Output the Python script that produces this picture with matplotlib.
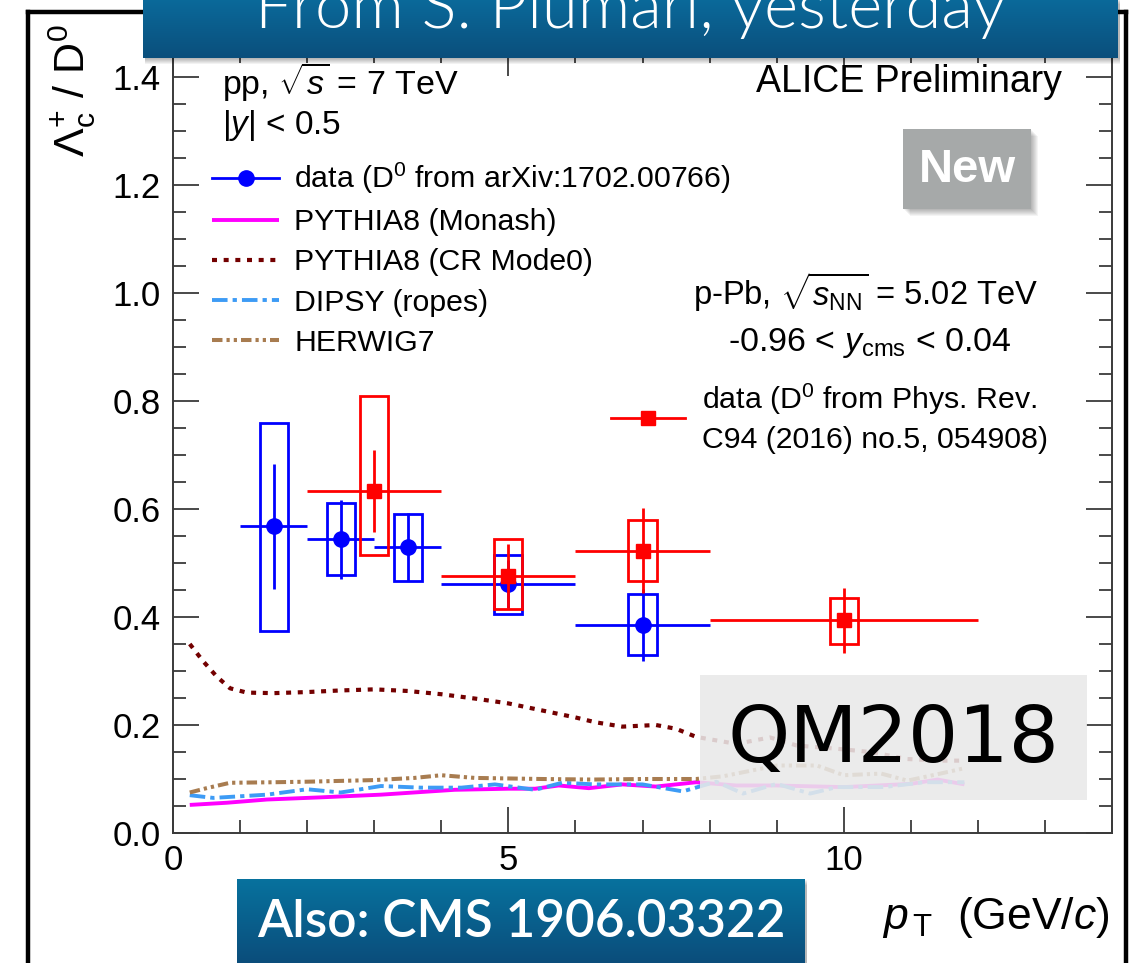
import numpy as np
import matplotlib
matplotlib.use("Agg")
import matplotlib.pyplot as plt
from matplotlib.lines import Line2D
from matplotlib.patches import Rectangle
from matplotlib.colors import LinearSegmentedColormap

plt.rcParams['font.family'] = ['Liberation Sans', 'DejaVu Sans']
plt.rcParams['mathtext.fontset'] = 'custom'
plt.rcParams['mathtext.rm'] = 'Liberation Sans'
plt.rcParams['mathtext.it'] = 'Liberation Sans:italic'
plt.rcParams['mathtext.bf'] = 'Liberation Sans:bold'

# ---------------- data ----------------
# pp, sqrt(s) = 7 TeV
pp_pt = [1.5, 2.5, 3.5, 5.0, 7.0]
pp_pt_halfbin = [0.5, 0.5, 0.5, 1.0, 1.0]
pp_ratio = [0.568, 0.544, 0.529, 0.461, 0.385]
pp_stat = [0.116, 0.073, 0.063, 0.045, 0.066]
pp_sys_low = [0.374, 0.477, 0.466, 0.406, 0.329]
pp_sys_high = [0.760, 0.611, 0.590, 0.514, 0.442]

# p-Pb, sqrt(sNN) = 5.02 TeV
ppb_pt = [3.0, 5.0, 7.0, 10.0]
ppb_pt_halfbin = [1.0, 1.0, 1.0, 2.0]
ppb_ratio = [0.634, 0.476, 0.523, 0.394]
ppb_stat = [0.076, 0.060, 0.079, 0.060]
ppb_sys_low = [0.514, 0.414, 0.467, 0.350]
ppb_sys_high = [0.809, 0.544, 0.579, 0.435]

# model curves
cr_pt = [0.25, 0.45, 0.65, 0.85, 1.1, 1.5, 2.0, 2.5, 3.0, 3.5, 4.0, 4.5, 5.0, 5.5,
         6.0, 6.3, 6.7, 7.2, 7.5, 7.8, 8.4, 8.9, 9.3, 9.9, 10.4, 10.95, 11.45, 11.8]
cr_ratio = [0.350, 0.318, 0.290, 0.268, 0.260, 0.259, 0.261, 0.264, 0.266, 0.263,
            0.257, 0.249, 0.240, 0.227, 0.214, 0.205, 0.197, 0.200, 0.193, 0.178,
            0.165, 0.177, 0.162, 0.156, 0.150, 0.137, 0.134, 0.134]

herwig_pt = [0.25, 0.5, 0.85, 1.5, 2.0, 3.0, 3.6, 4.0, 4.5, 5.0, 5.5, 6.25, 7.0, 7.8,
             8.2, 8.6, 9.0, 9.6, 10.0, 10.56, 10.95, 11.44, 11.8]
herwig_ratio = [0.075, 0.083, 0.093, 0.094, 0.095, 0.098, 0.102, 0.107, 0.102, 0.101,
                0.100, 0.099, 0.100, 0.100, 0.105, 0.115, 0.125, 0.125, 0.107, 0.110,
                0.097, 0.110, 0.120]

dipsy_pt = [0.25, 0.6, 1.0, 1.4, 2.0, 2.5, 3.1, 3.7, 4.3, 4.8, 5.4, 5.8, 6.3, 7.0,
            7.6, 8.1, 8.5, 9.0, 9.5, 9.9, 10.6, 11.2, 11.8]
dipsy_ratio = [0.070, 0.065, 0.068, 0.071, 0.081, 0.075, 0.087, 0.084, 0.084, 0.090,
               0.080, 0.093, 0.090, 0.090, 0.077, 0.095, 0.073, 0.091, 0.073, 0.085,
               0.085, 0.094, 0.094]

monash_pt = [0.25, 0.8, 1.4, 2.2, 3.1, 4.2, 5.0, 5.4, 5.75, 6.2, 6.7, 7.2, 7.8, 8.4,
             9.0, 10.0, 11.0, 11.4, 11.8]
monash_ratio = [0.052, 0.056, 0.062, 0.066, 0.071, 0.080, 0.082, 0.082, 0.088, 0.083,
                0.090, 0.086, 0.094, 0.088, 0.088, 0.085, 0.091, 0.099, 0.090]

x_major_ticks = [0, 5, 10]
y_major_ticks = [0.0, 0.2, 0.4, 0.6, 0.8, 1.0, 1.2, 1.4]

# ---------------- layout helpers ----------------
W, H = 1134, 963
fig = plt.figure(figsize=(W / 100, H / 100), dpi=100)


def fx(px):
    return px / W


def fy(py):
    return 1 - py / H


ax = fig.add_axes([fx(173), fy(833), fx(1112) - fx(173), (833 - 50) / H])
ax.set_xlim(0, 14)
ax.set_ylim(0, 1.45)

BLUE = '#0000ff'
RED = '#ff0000'
MAGENTA = '#ff00ff'
MAROON = '#730000'
SKY = '#3d9bf5'
BROWN = '#a87c50'

# models
l_monash, = ax.plot(monash_pt, monash_ratio, color=MAGENTA, lw=2.8, solid_capstyle='butt')
l_cr, = ax.plot(cr_pt, cr_ratio, color=MAROON, lw=3.0, dashes=(1.2, 1.6))
l_dipsy, = ax.plot(dipsy_pt, dipsy_ratio, color=SKY, lw=2.8, dashes=(4, 1.3, 1.1, 1.3))
l_herwig, = ax.plot(herwig_pt, herwig_ratio, color=BROWN, lw=2.9,
                    dashes=(2.6, 1.0, 0.8, 1.0, 0.8, 1.0))

# pp data
BOX_HW = 0.21
for x, lo, hi in zip(pp_pt, pp_sys_low, pp_sys_high):
    ax.add_patch(Rectangle((x - BOX_HW, lo), 2 * BOX_HW, hi - lo, fill=False,
                           ec=BLUE, lw=2.0, zorder=3))
ax.errorbar(pp_pt, pp_ratio, xerr=pp_pt_halfbin, yerr=pp_stat, fmt='o', color=BLUE,
            ms=11, lw=2.0, capsize=0, zorder=4)

# p-Pb data
for x, lo, hi in zip(ppb_pt, ppb_sys_low, ppb_sys_high):
    ax.add_patch(Rectangle((x - BOX_HW, lo), 2 * BOX_HW, hi - lo, fill=False,
                           ec=RED, lw=2.0, zorder=5))
ax.errorbar(ppb_pt, ppb_ratio, xerr=ppb_pt_halfbin, yerr=ppb_stat, fmt='s', color=RED,
            ms=10.5, lw=2.0, capsize=0, zorder=6)

# axes styling (ROOT-like)
for s in ax.spines.values():
    s.set_color('#3a3a3a')
    s.set_linewidth(1.4)
ax.set_xticks(x_major_ticks)
ax.set_xticks(np.arange(0, 15, 1), minor=True)
ax.set_yticks(y_major_ticks)
ax.set_yticks(np.arange(0, 1.46, 0.05), minor=True)
ax.set_yticklabels([f'{v:.1f}' for v in y_major_ticks])
ax.tick_params(which='both', direction='in', top=True, right=True, color='#3a3a3a',
               width=1.3, labelsize=25)
ax.tick_params(which='major', length=19)
ax.tick_params(which='minor', length=9.5)
ax.tick_params(axis='y', pad=9)
ax.tick_params(axis='x', pad=8)

# legend (pp)
h_data = Line2D([], [], color=BLUE, marker='o', ms=11, lw=2.0)
leg1 = ax.legend([h_data, l_monash, l_cr, l_dipsy, l_herwig],
                 ['data (D$^{0}$ from arXiv:1702.00766)', 'PYTHIA8 (Monash)',
                  'PYTHIA8 (CR Mode0)', 'DIPSY (ropes)', 'HERWIG7'],
                 loc='upper left', bbox_to_anchor=(fx(212), fy(161)),
                 bbox_transform=fig.transFigure, frameon=False, fontsize=21.8,
                 handlelength=2.22, handletextpad=0.5, borderpad=0, borderaxespad=0,
                 labelspacing=0.4)
ax.add_artist(leg1)

h_ppb = Line2D([], [], color=RED, marker='s', ms=10.5, lw=2.0)
leg2 = ax.legend([h_ppb], ['data (D$^{0}$ from Phys. Rev.\nC94 (2016) no.5, 054908)'],
                 loc='upper left', bbox_to_anchor=(fx(611), fy(382)),
                 bbox_transform=fig.transFigure, frameon=False, fontsize=21.8,
                 handlelength=2.45, handletextpad=0.55, borderpad=0, borderaxespad=0)
for t in leg2.get_texts():
    t.set_linespacing(1.4)

# texts in plot
fig.text(fx(222), fy(82), r'pp, $\sqrt{s}$ = 7 TeV', fontsize=24.5, va='center', ha='left')
fig.text(fx(222), fy(125), r'|$y$| < 0.5', fontsize=24, va='center', ha='left')
fig.text(fx(1062), fy(82), 'ALICE Preliminary', fontsize=27, va='center', ha='right')
fig.text(fx(865), fy(292), r'p-Pb, $\sqrt{s_{\rm NN}}$ = 5.02 TeV', fontsize=23.5,
         va='center', ha='center')
fig.text(fx(870), fy(343), r'-0.96 < $y_{\rm cms}$ < 0.04', fontsize=24.5,
         va='center', ha='center')

# axis titles
fig.text(fx(72), fy(24), r'$\Lambda_{\rm c}^{+}$ / D$^{0}$', fontsize=31, rotation=90,
         ha='center', va='top')
fig.text(fx(1110), fy(929), r'$p_{\,\rm T}$  (GeV/$c$)', fontsize=32, ha='right',
         va='baseline')

# outer black frame of the slide image
for xs, ys in [([28, 28], [12, 963]), ([28, 1126], [12, 12]), ([1126, 1126], [12, 963])]:
    fig.add_artist(Line2D([fx(v) for v in xs], [fy(v) for v in ys], color='black',
                          lw=3.2, zorder=4, solid_capstyle='projecting'))


def gradient_box(x0, y0, x1, y1, ctop, cbot, z):
    for k in range(1, 7):
        fig.add_artist(Rectangle((fx(x0 + 2), fy(y1 + k)), fx(x1 - x0), (y1 - y0) / H,
                                 transform=fig.transFigure, color='black',
                                 alpha=0.05, lw=0, zorder=z - 0.5))
    bax = fig.add_axes([fx(x0), fy(y1), fx(x1) - fx(x0), (y1 - y0) / H], zorder=z)
    cmap = LinearSegmentedColormap.from_list('g', [ctop, cbot])
    bax.imshow(np.linspace(0, 1, 64).reshape(-1, 1), aspect='auto', cmap=cmap,
               extent=(0, 1, 0, 1))
    bax.set_axis_off()
    return bax


gradient_box(143, -2, 1118, 58, '#0a6a9b', '#0b4f7c', 8)
fig.text(fx(630), fy(28), 'From S. Plumari, yesterday', color='white', fontsize=47,
         family=['Lato', 'DejaVu Sans'], weight=300, ha='center', va='baseline',
         zorder=12)

gradient_box(237, 879, 805, 966, '#07729e', '#0b4c7a', 8)
fig.text(fx(521), fy(937), 'Also: CMS 1906.03322', color='white', fontsize=37,
         family=['Lato', 'DejaVu Sans'], weight=600, ha='center', va='baseline',
         zorder=12)

# "New" tag
for k in range(1, 8):
    fig.add_artist(Rectangle((fx(903 + k), fy(209 + k)), fx(1031) - fx(903),
                             (209 - 129) / H, transform=fig.transFigure,
                             color='black', alpha=0.045, lw=0, zorder=7))
fig.add_artist(Rectangle((fx(903), fy(209)), fx(1031) - fx(903), (209 - 129) / H,
                         transform=fig.transFigure, color='#a6a9a9', lw=0, zorder=8))
fig.text(fx(967), fy(170), 'New', color='white', fontsize=34, weight='bold',
         ha='center', va='center', zorder=12)

# QM2018 overlay
fig.add_artist(Rectangle((fx(700), fy(800)), fx(1087) - fx(700), (800 - 675) / H,
                         transform=fig.transFigure, color='#e9e9e9', alpha=0.88, lw=0,
                         zorder=8))
fig.text(fx(893), fy(740), 'QM2018', color='black', fontsize=57,
         family='DejaVu Sans', ha='center', va='center', zorder=12)

fig.savefig('out.png', dpi=100)
